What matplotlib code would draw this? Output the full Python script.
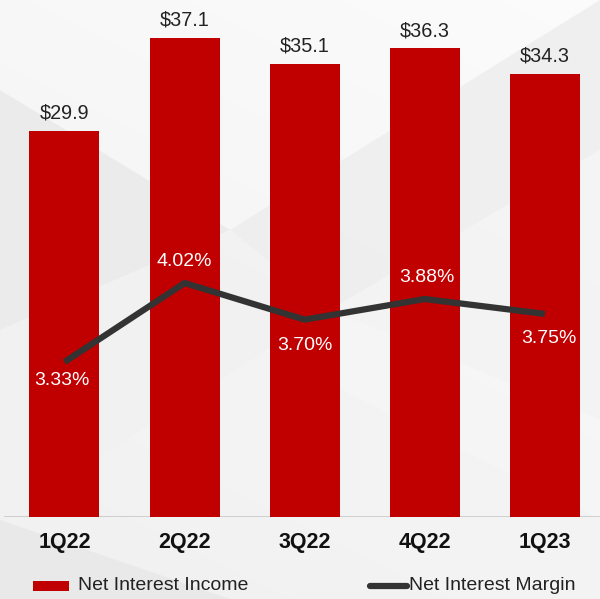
import matplotlib
matplotlib.use("Agg")
import matplotlib.pyplot as plt
import numpy as np
from matplotlib.patches import Polygon, Rectangle
from matplotlib.lines import Line2D

quarters = ["1Q22", "2Q22", "3Q22", "4Q22", "1Q23"]
net_interest_income = [29.9, 37.1, 35.1, 36.3, 34.3]
net_interest_margin = [3.33, 4.02, 3.70, 3.88, 3.75]
nii_labels = ["$29.9", "$37.1", "$35.1", "$36.3", "$34.3"]
nim_labels = ["3.33%", "4.02%", "3.70%", "3.88%", "3.75%"]

RED = "#C00000"
DARK = "#333333"
plt.rcParams["font.family"] = ["Liberation Sans", "DejaVu Sans"]

W, H = 600, 599
fig = plt.figure(figsize=(W / 100, H / 100), dpi=100)

# soft grey backdrop with diagonal panels
bg = fig.add_axes([0, 0, 1, 1], zorder=-10)
bg.set_xlim(0, W)
bg.set_ylim(H, 0)
bg.axis("off")
yy, xx = np.mgrid[0:H, 0:W]
grad = 0.968 - 0.03 * (yy / H) + 0.015 * (xx / W)
bg.imshow(grad, cmap="gray", vmin=0, vmax=1, extent=(0, W, H, 0), aspect="auto")
panels = [
    ([(0, 90), (230, 230), (0, 330)], "#e9e9ea"),
    ([(230, 230), (600, 0), (600, 150), (330, 310)], "#ededee"),
    ([(0, 330), (230, 230), (330, 310), (0, 520)], "#f1f1f2"),
    ([(330, 310), (600, 150), (600, 420)], "#f3f3f4"),
    ([(0, 520), (230, 599), (0, 599)], "#e8e8e9"),
]
for pts, col in panels:
    bg.add_patch(Polygon(pts, closed=True, color=col, lw=0, alpha=0.8))

# main plot area: baseline at y=517px, top at y=10px
X0, STEP = 64.5, 120.1
ax_bottom = (H - 517) / H
ax_top = (H - 10) / H
ax = fig.add_axes([0, ax_bottom, 1, ax_top - ax_bottom])
ax.patch.set_alpha(0)
x = np.arange(len(quarters))
ax.set_xlim(-X0 / STEP, (W - X0) / STEP)
ax.set_ylim(0, 507 / 12.91)
ax.bar(x, net_interest_income, width=70 / STEP, color=RED, zorder=2)
for xi, v, lab in zip(x, net_interest_income, nii_labels):
    ax.annotate(lab, (xi, v), xytext=(0, 6), textcoords="offset points",
                ha="center", va="bottom", fontsize=14.3, color="#222222")
ax.axhline(0, xmin=5 / 600, xmax=1, color="#c8c8c8", lw=1.2, zorder=1)
for s in ax.spines.values():
    s.set_visible(False)
ax.set_yticks([])
ax.set_xticks(x)
ax.set_xticklabels(quarters, fontsize=15.5, fontweight="bold", color="#111111")
ax.tick_params(axis="x", length=0, pad=11)

ax2 = ax.twinx()
lo = 4.02 - (517 - 283) / 114.5
hi = 4.02 + (283 - 10) / 114.5
ax2.set_ylim(lo, hi)
ax2.plot(x, net_interest_margin, color=DARK, lw=4.5, solid_joinstyle="round",
         solid_capstyle="butt", zorder=3)
# label offsets (px) from each point: negative = above the line
label_dx = [-3, 0, 0, 2, 4]
label_dy = [18, -22, 26, -22, 25]
for xi, v, lab, dx, dy in zip(x, net_interest_margin, nim_labels, label_dx, label_dy):
    ax2.annotate(lab, (xi, v), xytext=(dx * 0.72, -dy * 0.72),
                 textcoords="offset points", ha="center", va="center",
                 fontsize=14, color="white")
ax2.set_yticks([])
for s in ax2.spines.values():
    s.set_visible(False)

# legend row
leg = fig.add_axes([0, 0, 1, 1], zorder=5)
leg.set_xlim(0, W)
leg.set_ylim(H, 0)
leg.axis("off")
leg.add_patch(Rectangle((33, 581), 36, 10, color=RED, lw=0))
leg.text(78, 585, "Net Interest Income", fontsize=14, color="#222222",
         va="center", ha="left")
leg.add_line(Line2D([370, 407], [586, 586], color=DARK, lw=4.5,
                    solid_capstyle="round"))
leg.text(409, 585, "Net Interest Margin", fontsize=14, color="#222222",
         va="center", ha="left")

fig.savefig("out.png", dpi=100)
